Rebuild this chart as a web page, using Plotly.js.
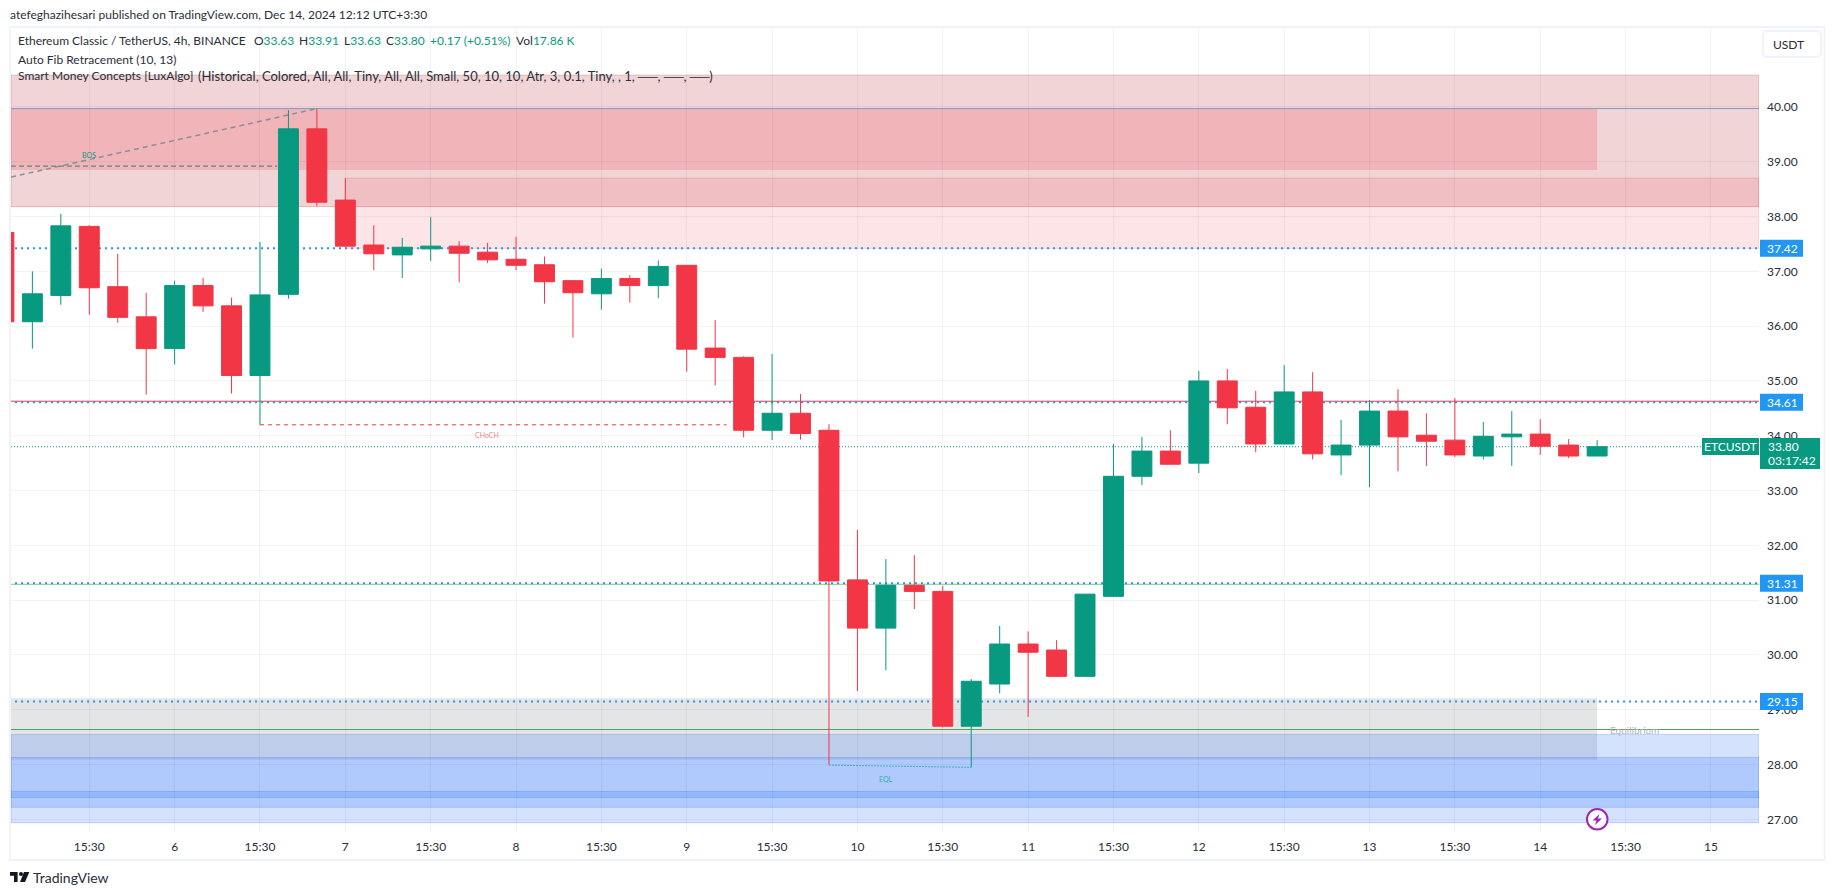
<!DOCTYPE html>
<html>
<head>
<meta charset="utf-8">
<title>ETCUSDT</title>
<script src="https://cdn.plot.ly/plotly-3.0.1.min.js"></script>
<style>
  html, body { margin: 0; padding: 0; background: #fff; overflow: hidden; }
  #plot { width: 1835px; height: 895px; }
</style>
</head>
<body>
<div id="plot"></div>
<script>
// 4h candles, bar number on the x axis (-1 is the one cut off at the left edge)
const bars = [-1, 0, 1, 2, 3, 4, 5, 6, 7, 8, 9, 10, 11, 12, 13, 14, 15, 16, 17, 18, 19, 20, 21, 22, 23, 24, 25, 26, 27,
  28, 29, 30, 31, 32, 33, 34, 35, 36, 37, 38, 39, 40, 41, 42, 43, 44, 45, 46, 47, 48, 49, 50, 51, 52, 53, 54, 55];
const opens = [37.71, 36.08, 36.56, 37.82, 36.72, 36.17, 35.59, 36.74, 36.37, 35.10, 36.58, 39.60, 38.30, 37.48, 37.30, 37.41, 37.46, 37.35, 37.22, 37.12, 36.83, 36.59, 36.87, 36.74, 37.11, 35.60, 35.43, 34.10, 34.41,
  34.10, 31.37, 30.49, 31.27, 31.16, 28.70, 29.47, 30.20, 30.09, 29.61, 31.07, 33.26, 33.72, 33.50, 35.00, 34.52, 33.85, 34.80, 33.65, 33.83, 34.45, 34.01, 33.92, 33.63, 33.98, 34.03, 33.83, 33.63];
const highs = [37.71, 37.00, 38.05, 37.84, 37.32, 36.61, 36.83, 36.88, 36.52, 37.54, 39.94, 39.97, 38.70, 37.84, 37.61, 37.99, 37.55, 37.52, 37.63, 37.27, 36.83, 37.05, 36.93, 37.20, 37.11, 36.11, 35.45, 35.49, 34.76,
  34.21, 32.28, 31.75, 31.82, 31.26, 29.56, 30.53, 30.43, 30.27, 31.11, 33.85, 33.98, 34.10, 35.18, 35.22, 34.82, 35.29, 35.16, 34.29, 34.65, 34.85, 34.41, 34.69, 34.25, 34.45, 34.30, 33.94, 33.92];
const lows = [36.08, 35.59, 36.39, 36.21, 36.06, 34.75, 35.30, 36.26, 34.77, 34.20, 36.50, 38.19, 37.45, 37.02, 36.88, 37.19, 36.80, 37.15, 37.02, 36.41, 35.79, 36.30, 36.43, 36.51, 35.17, 34.92, 33.97, 33.92, 33.93,
  28.00, 29.34, 29.72, 30.84, 28.68, 27.95, 29.30, 28.87, 29.61, 29.61, 31.06, 33.10, 33.48, 33.32, 34.21, 33.70, 33.85, 33.57, 33.28, 33.06, 33.35, 33.45, 33.61, 33.57, 33.45, 33.65, 33.59, 33.63];
const closes = [36.08, 36.59, 37.83, 36.70, 36.16, 35.59, 36.74, 36.37, 35.10, 36.57, 39.60, 38.26, 37.46, 37.32, 37.44, 37.46, 37.33, 37.21, 37.11, 36.81, 36.61, 36.87, 36.74, 37.09, 35.58, 35.43, 34.10, 34.41, 34.04,
  31.35, 30.49, 31.27, 31.16, 28.70, 29.52, 30.20, 30.05, 29.61, 31.11, 33.26, 33.72, 33.48, 35.00, 34.51, 33.85, 34.80, 33.67, 33.83, 34.45, 33.98, 33.90, 33.65, 33.99, 34.03, 33.81, 33.63, 33.80];

const timeTicks = [2, 5, 8, 11, 14, 17, 20, 23, 26, 29, 32, 35, 38, 41, 44, 47, 50, 53, 56, 59];
const timeLabels = ['15:30', '6', '15:30', '7', '15:30', '8', '15:30', '9', '15:30', '10', '15:30', '11', '15:30', '12', '15:30', '13', '15:30', '14', '15:30', '15'];
const priceTicks = [27, 28, 29, 30, 31, 32, 33, 34, 35, 36, 37, 38, 39, 40];
const priceLabels = ['27.00', '28.00', '29.00', '30.00', '31.00', '32.00', '33.00', '34.00', '35.00', '36.00', '37.00', '38.00', '39.00', '40.00'];

const blueLevels = [37.42, 34.61, 31.31, 29.15];
const blueLevelLabels = ['37.42', '34.61', '31.31', '29.15'];
const lastPrice = 33.80;
const fibHigh = 39.97;
const redLevel = 34.63;
const greenLevel = 31.29;
const equilibrium = 28.64;

// plot box in page pixels
const plotL = 11, plotR = 1759, plotT = 28, plotB = 832;
const xMin = -0.752, xMax = 60.69, yMin = 26.77, yMax = 41.44;

const green = '#089981';
const red = '#f23645';
const blue = '#2196f3';
const ink = '#2a2e39';
const font = 'Lato, "Open Sans", sans-serif';

function px(x) { return (x - plotL) / (plotR - plotL); }
function py(y) { return 1 - (y - plotT) / (plotB - plotT); }

function zone(x0, x1, hi, lo, color, edge) {
  return {
    type: 'rect', xref: 'x', yref: 'y', x0: x0, x1: x1, y0: lo, y1: hi, layer: 'below',
    fillcolor: color, line: edge ? { color: edge, width: 1 } : { width: 0 }
  };
}

function hline(x0, x1, y0, y1, color, width, dash) {
  return {
    type: 'line', xref: 'x', yref: 'y', x0: x0, x1: x1, y0: y0, y1: y1, layer: 'below',
    line: { color: color, width: width, dash: dash || 'solid' }
  };
}

function box(x0, x1, y0, y1, color) {
  return {
    type: 'rect', xref: 'paper', yref: 'paper', x0: px(x0), x1: px(x1), y0: py(y1), y1: py(y0), layer: 'above',
    fillcolor: color, line: { width: 0 }
  };
}

function label(x, y, text, size, color, anchor) {
  return {
    xref: 'paper', yref: 'paper', x: px(x), y: py(y), text: text, showarrow: false,
    xanchor: anchor || 'left', yanchor: 'middle', borderpad: 0, borderwidth: 0,
    font: { family: font, size: size, color: color }
  };
}

const trace = {
  type: 'candlestick',
  x: bars,
  open: opens,
  high: highs,
  low: lows,
  close: closes,
  increasing: { line: { color: green, width: 1 }, fillcolor: green },
  decreasing: { line: { color: red, width: 1 }, fillcolor: red },
  whiskerwidth: 0,
  hoverinfo: 'skip'
};

const shapes = [
  // supply side
  zone(xMin, xMax, 40.58, 38.18, 'rgba(178,40,51,0.2)', 'rgba(178,40,51,0.25)'),
  zone(xMin, 55, 39.97, 38.85, 'rgba(242,54,69,0.2)'),
  zone(11, xMax, 38.70, 37.42, 'rgba(242,54,69,0.13)', 'rgba(242,54,69,0.2)'),
  // demand side
  zone(xMin, 55, 29.21, 28.09, 'rgba(120,123,134,0.2)'),
  zone(xMin, xMax, 28.55, 26.94, 'rgba(41,110,250,0.2)', 'rgba(41,110,250,0.25)'),
  zone(xMin, xMax, 28.13, 27.22, 'rgba(41,110,250,0.2)', 'rgba(41,110,250,0.25)'),
  zone(xMin, xMax, 27.51, 27.40, 'rgba(41,110,250,0.2)', 'rgba(41,110,250,0.25)'),

  // fib + structure lines
  hline(xMin, xMax, fibHigh, fibHigh, '#7d9ccb', 1),
  hline(xMin, xMax, redLevel, redLevel, red, 1),
  hline(xMin, xMax, greenLevel, greenLevel, '#81c784', 1),
  hline(xMin, xMax, equilibrium, equilibrium, '#55a05c', 1),
  hline(xMin, 10, 38.72, 39.97, '#8a8e99', 1.5, '5px,4px'),
  hline(xMin, 8.6, 38.92, 38.92, '#2e8b73', 1, '5px,3px'),
  hline(8, 24.4, 34.20, 34.20, red, 1, '4px,4px'),
  hline(28, 33, 27.99, 27.95, '#43aebb', 1, '2px,1px'),
  hline(xMin, xMax, lastPrice, lastPrice, green, 1, '1px,2px'),

  // frame
  {
    type: 'rect', xref: 'paper', yref: 'paper', x0: px(10), x1: px(1824.5), y0: py(860), y1: py(27), layer: 'below',
    line: { color: '#f0f3fa', width: 2 }, fillcolor: 'rgba(0,0,0,0)'
  },

  // currency button
  {
    type: 'path', xref: 'paper', yref: 'paper', layer: 'above',
    path: 'M' + px(1767) + ',' + py(31) + ' L' + px(1817) + ',' + py(31) + ' Q' + px(1821) + ',' + py(31) + ' ' + px(1821) + ',' + py(35) +
      ' L' + px(1821) + ',' + py(53) + ' Q' + px(1821) + ',' + py(57) + ' ' + px(1817) + ',' + py(57) +
      ' L' + px(1767) + ',' + py(57) + ' Q' + px(1763) + ',' + py(57) + ' ' + px(1763) + ',' + py(53) +
      ' L' + px(1763) + ',' + py(35) + ' Q' + px(1763) + ',' + py(31) + ' ' + px(1767) + ',' + py(31) + ' Z',
    fillcolor: '#ffffff', line: { color: '#f0f3fa', width: 2 }
  },

  // purple flash marker
  {
    type: 'circle', xref: 'paper', yref: 'paper', layer: 'above',
    x0: px(1587), x1: px(1607.5), y0: py(829.5), y1: py(809),
    fillcolor: '#ffffff', line: { color: '#9c27b0', width: 2 }
  },
  {
    type: 'path', xref: 'paper', yref: 'paper', layer: 'above', fillcolor: '#9c27b0', line: { width: 0 },
    path: 'M' + px(1599.5) + ',' + py(814) + ' L' + px(1592.5) + ',' + py(820.5) + ' L' + px(1596.5) + ',' + py(820.5) +
      ' L' + px(1595) + ',' + py(825) + ' L' + px(1602) + ',' + py(818.5) + ' L' + px(1598) + ',' + py(818.5) + ' Z'
  },

  // TradingView logo
  {
    type: 'path', xref: 'paper', yref: 'paper', layer: 'above', fillcolor: '#131722', line: { width: 0 },
    path: 'M' + px(10) + ',' + py(872) + ' L' + px(17.6) + ',' + py(872) + ' L' + px(17.6) + ',' + py(882) + ' L' + px(14) + ',' + py(882) +
      ' L' + px(14) + ',' + py(875.8) + ' L' + px(10) + ',' + py(875.8) + ' Z ' +
      'M' + px(24) + ',' + py(872) + ' L' + px(29.3) + ',' + py(872) + ' L' + px(25) + ',' + py(882) + ' L' + px(20) + ',' + py(882) + ' Z'
  },
  {
    type: 'circle', xref: 'paper', yref: 'paper', layer: 'above', fillcolor: '#131722', line: { width: 0 },
    x0: px(19), x1: px(23), y0: py(876), y1: py(872)
  },

  // price axis tags
  box(1702, 1759, 438, 455, green),
  box(1760, 1820, 438, 469, green)
];

const annotations = [
  label(10, 15, 'atefeghazihesari published on TradingView.com, Dec 14, 2024 12:12 UTC+3:30', 12, ink),
  label(18, 41, 'Ethereum Classic / TetherUS, 4h, BINANCE', 12, ink),
  label(254, 41, 'O<span style="color:' + green + '">33.63</span>', 12, ink),
  label(298.6, 41, 'H<span style="color:' + green + '">33.91</span>', 12, ink),
  label(343.7, 41, 'L<span style="color:' + green + '">33.63</span>', 12, ink),
  label(386, 41, 'C<span style="color:' + green + '">33.80</span>', 12, ink),
  label(430, 41, '+0.17 (+0.51%)', 12, green),
  label(516, 41, 'Vol<span style="color:' + green + '">17.86 K</span>', 12, ink),
  label(18, 59, 'Auto Fib Retracement (10, 13)', 12, ink),
  label(18, 76, 'Smart Money Concepts [LuxAlgo]', 12, ink),
  label(198, 76, '(Historical, Colored, All, All, Tiny, All, All, Small, 50, 10, 10, Atr, 3, 0.1, Tiny, , 1, ──, ──, ──)', 13, ink),
  label(1788, 44, 'USDT', 12, ink, 'center'),
  label(88.5, 154.7, 'BOS', 7, green, 'center'),
  label(487, 435, 'CHoCH', 7, '#f7808a', 'center'),
  label(885.7, 778.7, 'EQL', 7, '#2fb0a8', 'center'),
  label(1634, 729.7, 'Equilibrium', 10, '#b2b5be', 'center'),
  label(1730.5, 446.7, 'ETCUSDT', 12, '#ffffff', 'center'),
  label(1768, 446.7, '33.80', 12, '#ffffff'),
  label(1768, 460.7, '03:17:42', 12, '#ffffff'),
  label(33, 877.7, 'TradingView', 14, ink)
];

// blue level lines with their price tags
const dotStart = -0.61;
for (let i = 0; i < blueLevels.length; i++) {
  shapes.push(hline(dotStart, xMax, blueLevels[i], blueLevels[i], blue, 2, '2px,4px'));
  shapes.push({
    type: 'rect', xref: 'paper', yref: 'y', x0: px(1760), x1: px(1803), y0: blueLevels[i] - 0.155, y1: blueLevels[i] + 0.155,
    layer: 'above', fillcolor: blue, line: { width: 0 }
  });
  annotations.push({
    xref: 'paper', yref: 'y', x: px(1782.5), y: blueLevels[i], text: blueLevelLabels[i], showarrow: false,
    xanchor: 'center', yanchor: 'middle', font: { family: font, size: 12, color: '#ffffff' }
  });
}

const layout = {
  width: 1835,
  height: 895,
  margin: { l: plotL, r: 1835 - plotR, t: plotT, b: 895 - plotB, pad: 0 },
  paper_bgcolor: '#ffffff',
  plot_bgcolor: '#ffffff',
  showlegend: false,
  dragmode: false,
  boxgap: 0.3,
  boxgroupgap: 0,
  font: { family: font, size: 12, color: ink },
  xaxis: {
    type: 'linear',
    range: [xMin, xMax],
    tickmode: 'array',
    tickvals: timeTicks,
    ticktext: timeLabels,
    ticks: '',
    showline: false,
    zeroline: false,
    showgrid: true,
    gridcolor: 'rgba(42,46,57,0.06)',
    gridwidth: 1,
    rangeslider: { visible: false },
    tickfont: { family: font, size: 12, color: ink },
    ticklabelstandoff: 6
  },
  yaxis: {
    range: [yMin, yMax],
    side: 'right',
    tickmode: 'array',
    tickvals: priceTicks,
    ticktext: priceLabels,
    ticks: '',
    showline: false,
    zeroline: false,
    showgrid: true,
    gridcolor: 'rgba(42,46,57,0.06)',
    gridwidth: 1,
    tickfont: { family: font, size: 12, color: ink },
    ticklabelstandoff: 7
  },
  shapes: shapes,
  annotations: annotations
};

Plotly.newPlot('plot', [trace], layout, { displayModeBar: false, staticPlot: true });
</script>
</body>
</html>
